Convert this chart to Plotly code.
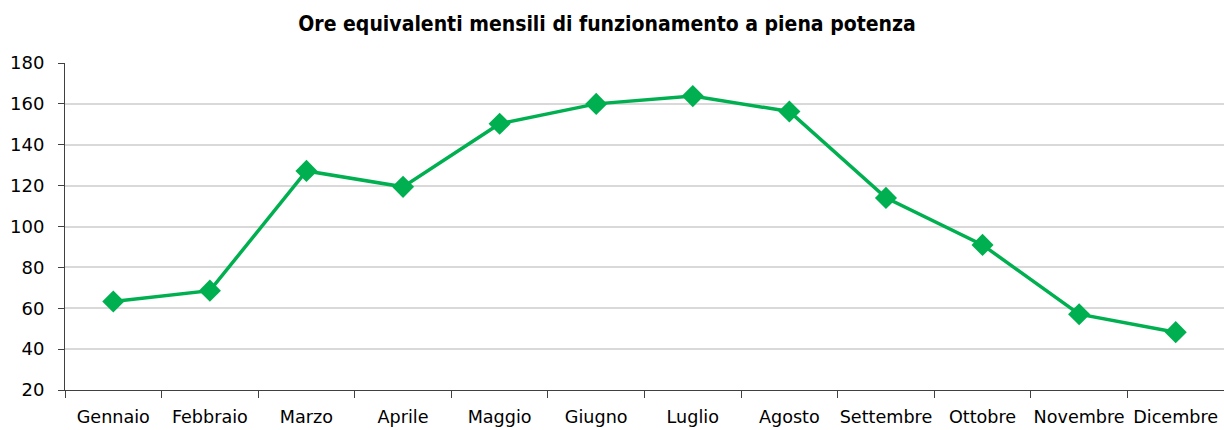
import plotly.graph_objects as go

mesi = ["Gennaio", "Febbraio", "Marzo", "Aprile", "Maggio", "Giugno",
        "Luglio", "Agosto", "Settembre", "Ottobre", "Novembre", "Dicembre"]
ore = [63.3, 68.6, 127.2, 119.4, 150.3, 160.0, 163.8, 156.3, 114.0, 91.0, 57.1, 48.3]
y_ticks = [20, 40, 60, 80, 100, 120, 140, 160, 180]

verde = "#00B050"
font_axis = "DejaVu Sans, Verdana, sans-serif"
font_title = "DejaVu Sans Condensed, DejaVu Sans, sans-serif"

fig = go.Figure()
fig.add_trace(go.Scatter(
    x=mesi, y=ore, mode="lines+markers",
    line=dict(color=verde, width=3.5),
    marker=dict(symbol="diamond", size=17, color=verde),
    showlegend=False,
))

fig.update_layout(
    width=1224, height=430,
    margin=dict(l=65, r=0, t=63, b=40, autoexpand=False),
    paper_bgcolor="white", plot_bgcolor="white",
    font=dict(family=font_axis, size=18, color="#000000"),
    title=dict(text="<b>Ore equivalenti mensili di funzionamento a piena potenza</b>",
               x=607 / 1224, xanchor="center", xref="container",
               y=1 - 24 / 430, yanchor="middle", yref="container",
               font=dict(family=font_title, size=21, color="#000000")),
)
fig.update_xaxes(
    type="category", tickson="boundaries", ticks="outside", ticklen=7,
    tickcolor="#404040", showline=True, linecolor="#404040", linewidth=1,
    showgrid=False, range=[-0.5, 11.5], tickfont=dict(size=17.6),
    tickangle=0, automargin=False, ticklabelstandoff=11,
)
fig.update_yaxes(
    range=[20, 180], tickvals=y_ticks, ticks="outside", ticklen=6,
    tickcolor="#404040", showline=True, linecolor="#404040", linewidth=1,
    showgrid=True, gridcolor="#d9d9d9", gridwidth=1.6, zeroline=False,
    tickfont=dict(size=18), ticklabelstandoff=10, automargin=False,
)

fig.write_html("out.html")
